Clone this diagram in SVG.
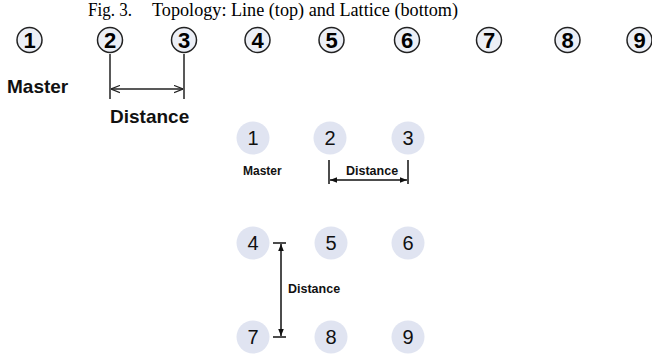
<svg xmlns="http://www.w3.org/2000/svg" width="652" height="360" viewBox="0 0 652 360">
<defs>
<style>
.title{font-family:"Liberation Serif","Times New Roman",serif;font-size:18px;fill:#000}
.tc{fill:#eceff6;stroke:#222;stroke-width:1.5}
.tn{font-family:"Liberation Sans",Arial,sans-serif;font-weight:bold;font-size:22px;fill:#000;text-anchor:middle}
.lc{fill:#e0e4f1}
.ln{font-family:"Liberation Sans",Arial,sans-serif;font-size:20px;fill:#111;text-anchor:middle}
.lbl{font-family:"Liberation Sans",Arial,sans-serif;font-weight:bold;fill:#111}
.ln1{stroke:#222;stroke-width:1.5;fill:none}
.ln2{stroke:#111;stroke-width:1.5;fill:none}
</style>
<marker id="open" viewBox="0 0 10 10" refX="10" refY="5" markerWidth="9" markerHeight="9" markerUnits="userSpaceOnUse" orient="auto-start-reverse">
<path d="M0,1 L10,5 L0,9" fill="none" stroke="#222" stroke-width="1.3"/>
</marker>
<marker id="solid" viewBox="0 0 10 10" refX="10" refY="5" markerWidth="7" markerHeight="7" markerUnits="userSpaceOnUse" orient="auto-start-reverse">
<path d="M0,1 L10,5 L0,9 Z" fill="#111"/>
</marker>
</defs>
<rect width="652" height="360" fill="#fff"/>
<text class="title" x="88" y="16"><tspan x="88" textLength="44" lengthAdjust="spacingAndGlyphs">Fig. 3.</tspan><tspan x="152" textLength="306" lengthAdjust="spacingAndGlyphs">Topology: Line (top) and Lattice (bottom)</tspan></text>

<g id="line-top">
<g id="t1"><circle class="tc" cx="29.5" cy="40" r="12.5"/><text class="tn" x="29.5" y="48">1</text></g>
<g id="t2"><circle class="tc" cx="110" cy="40" r="12.5"/><text class="tn" x="110" y="48">2</text></g>
<g id="t3"><circle class="tc" cx="184" cy="40" r="12.5"/><text class="tn" x="184" y="48">3</text></g>
<g id="t4"><circle class="tc" cx="257.5" cy="40" r="12.5"/><text class="tn" x="257.5" y="48">4</text></g>
<g id="t5"><circle class="tc" cx="331.5" cy="40" r="12.5"/><text class="tn" x="331.5" y="48">5</text></g>
<g id="t6"><circle class="tc" cx="407" cy="40" r="12.5"/><text class="tn" x="407" y="48">6</text></g>
<g id="t7"><circle class="tc" cx="489" cy="40" r="12.5"/><text class="tn" x="489" y="48">7</text></g>
<g id="t8"><circle class="tc" cx="567.5" cy="40" r="12.5"/><text class="tn" x="567.5" y="48">8</text></g>
<g id="t9"><circle class="tc" cx="639.5" cy="40" r="12.5"/><text class="tn" x="639.5" y="48">9</text></g>
<text class="lbl" x="7" y="93" font-size="19">Master</text>
<text class="lbl" x="110" y="123" font-size="19">Distance</text>
</g>

<g id="lattice">
<g id="l1"><circle class="lc" cx="253" cy="138" r="16.5"/><text class="ln" x="253" y="145">1</text></g>
<g id="l2"><circle class="lc" cx="330" cy="138" r="16.5"/><text class="ln" x="330" y="145">2</text></g>
<g id="l3"><circle class="lc" cx="408" cy="138" r="16.5"/><text class="ln" x="408" y="145">3</text></g>
<g id="l4"><circle class="lc" cx="253" cy="243" r="16.5"/><text class="ln" x="253" y="250">4</text></g>
<g id="l5"><circle class="lc" cx="331" cy="243" r="16.5"/><text class="ln" x="331" y="250">5</text></g>
<g id="l6"><circle class="lc" cx="408" cy="243" r="16.5"/><text class="ln" x="408" y="250">6</text></g>
<g id="l7"><circle class="lc" cx="253" cy="337" r="16.5"/><text class="ln" x="253" y="344">7</text></g>
<g id="l8"><circle class="lc" cx="331" cy="337" r="16.5"/><text class="ln" x="331" y="344">8</text></g>
<g id="l9"><circle class="lc" cx="408" cy="337" r="16.5"/><text class="ln" x="408" y="344">9</text></g>
<text class="lbl" x="243" y="175" font-size="12">Master</text>
<text class="lbl" x="346" y="175" font-size="12.5">Distance</text>
<text class="lbl" x="288" y="293" font-size="12.5">Distance</text>
</g>

<g id="connectors">
<line class="ln1" x1="110" y1="54" x2="110" y2="99"/>
<line class="ln1" x1="184" y1="54" x2="184" y2="99"/>
<line class="ln1" x1="111" y1="89" x2="183" y2="89" marker-start="url(#open)" marker-end="url(#open)"/>
<line class="ln2" x1="329" y1="160" x2="329" y2="184"/>
<line class="ln2" x1="408" y1="160" x2="408" y2="184"/>
<line class="ln2" x1="330" y1="180" x2="407" y2="180" marker-start="url(#solid)" marker-end="url(#solid)"/>
<line class="ln2" x1="273" y1="243" x2="286" y2="243"/>
<line class="ln2" x1="273" y1="337" x2="286" y2="337"/>
<line class="ln2" x1="281" y1="244" x2="281" y2="336" marker-start="url(#solid)" marker-end="url(#solid)"/>
</g>
</svg>
